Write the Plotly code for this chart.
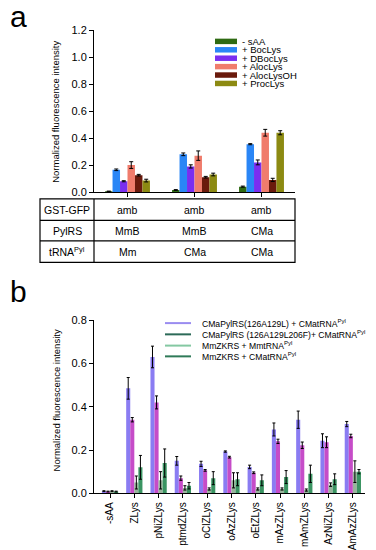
import plotly.graph_objects as go

W, H = 376, 550
def px(x): return x / W
def py(y): return 1 - y / H

FONT = "Liberation Sans, Arial, sans-serif"

# ---------------- Panel a data ----------------
a_groups = [0, 1, 2]
a_series = ["- sAA", "+ BocLys", "+ DBocLys", "+ AlocLys", "+ AlocLysOH", "+ ProcLys"]
a_colors = ["#2e6a12", "#2a86f6", "#7a2ef0", "#f07c6c", "#6a1a0c", "#8c8a12"]
a_sAA        = [0.005, 0.015, 0.040]
a_BocLys     = [0.165, 0.280, 0.355]
a_DBocLys    = [0.080, 0.190, 0.220]
a_AlocLys    = [0.200, 0.270, 0.440]
a_AlocLysOH  = [0.125, 0.110, 0.090]
a_ProcLys    = [0.085, 0.130, 0.440]
a_err_sAA       = [0.002, 0.003, 0.004]
a_err_BocLys    = [0.006, 0.010, 0.004]
a_err_DBocLys   = [0.004, 0.012, 0.018]
a_err_AlocLys   = [0.025, 0.035, 0.025]
a_err_AlocLysOH = [0.006, 0.006, 0.012]
a_err_ProcLys   = [0.010, 0.010, 0.015]
a_values = [a_sAA, a_BocLys, a_DBocLys, a_AlocLys, a_AlocLysOH, a_ProcLys]
a_errors = [a_err_sAA, a_err_BocLys, a_err_DBocLys, a_err_AlocLys, a_err_AlocLysOH, a_err_ProcLys]
a_yticks = [0.0, 0.2, 0.4, 0.6, 0.8, 1.0, 1.2]

table_rows = ["GST-GFP", "PylRS", "tRNA<sup>Pyl</sup>"]
table_gst = ["amb", "amb", "amb"]
table_pylrs = ["MmB", "MmB", "CMa"]
table_trna = ["Mm", "CMa", "CMa"]

# ---------------- Panel b data ----------------
b_categories = ["-sAA", "ZLys", "pNiZLys", "ptmdZLys", "oClZLys", "oAzZLys",
                "oEtZLys", "mAzZLys", "mAmZLys", "AzNiZLys", "AmAzZLys"]
b_series = ["CMaPylRS(126A129L) + CMatRNA<sup>Pyl</sup>",
            "CMaPylRS (126A129L206F)+ CMatRNA<sup>Pyl</sup>",
            "MmZKRS + MmtRNA<sup>Pyl</sup>",
            "MmZKRS + CMatRNA<sup>Pyl</sup>"]
b_bar_colors = ["#8a7cf2", "#c64cc8", "#98b49c", "#3a9462"]
b_legend_colors = ["#9a8cf0", "#2c6a58", "#84c8a2", "#2f7a58"]
b_s1 = [0.010, 0.485, 0.630, 0.150, 0.136, 0.193, 0.122, 0.295, 0.340, 0.243, 0.320]
b_s2 = [0.008, 0.340, 0.420, 0.070, 0.106, 0.167, 0.095, 0.240, 0.222, 0.236, 0.265]
b_s3 = [0.010, 0.050, 0.060, 0.025, 0.020, 0.060, 0.020, 0.020, 0.015, 0.040, 0.100]
b_s4 = [0.008, 0.120, 0.140, 0.035, 0.070, 0.065, 0.060, 0.075, 0.090, 0.065, 0.100]
b_e1 = [0.002, 0.050, 0.050, 0.020, 0.012, 0.003, 0.008, 0.030, 0.040, 0.032, 0.012]
b_e2 = [0.002, 0.010, 0.030, 0.010, 0.004, 0.004, 0.004, 0.010, 0.015, 0.025, 0.008]
b_e3 = [0.002, 0.030, 0.040, 0.010, 0.005, 0.035, 0.005, 0.005, 0.005, 0.008, 0.050]
b_e4 = [0.002, 0.055, 0.065, 0.015, 0.030, 0.030, 0.025, 0.030, 0.040, 0.025, 0.010]
b_values = [b_s1, b_s2, b_s3, b_s4]
b_errors = [b_e1, b_e2, b_e3, b_e4]
b_yticks = [0.0, 0.2, 0.4, 0.6, 0.8]

fig = go.Figure()

for name, vals, errs, col in zip(a_series, a_values, a_errors, a_colors):
    fig.add_trace(go.Bar(
        x=a_groups, y=vals, name=name, marker=dict(color=col, line=dict(width=0)),
        error_y=dict(type="data", array=errs, color="black", thickness=1, width=2),
        xaxis="x", yaxis="y", offsetgroup=name, showlegend=False))

for name, vals, errs, col in zip(b_series, b_values, b_errors, b_bar_colors):
    fig.add_trace(go.Bar(
        x=b_categories, y=vals, name=name, marker=dict(color=col, line=dict(width=0)),
        error_y=dict(type="data", array=errs, color="black", thickness=1, width=1.5),
        xaxis="x2", yaxis="y2", offsetgroup=name, showlegend=False))

shapes = []
annotations = []

# Panel labels
annotations.append(dict(text="a", x=px(0), y=py(-16), xref="paper", yref="paper",
                        xanchor="left", yanchor="top", showarrow=False,
                        font=dict(family=FONT, size=30, color="black")))
annotations.append(dict(text="b", x=px(0), y=py(265), xref="paper", yref="paper",
                        xanchor="left", yanchor="top", showarrow=False,
                        font=dict(family=FONT, size=30, color="black")))

# Y titles
for yc in [100, 395]:
    annotations.append(dict(text="Normalized fluorescence intensity", x=px(48), y=py(yc),
                            xref="paper", yref="paper", textangle=-90, showarrow=False,
                            xanchor="center", yanchor="middle",
                            font=dict(family=FONT, size=9.5, color="black")))

# Panel a legend (manual, compact)
row0, step = 28, 8.6
for i, (name, col) in enumerate(zip(a_series, a_colors)):
    yc = row0 + i * step
    shapes.append(dict(type="rect", xref="paper", yref="paper",
                       x0=px(207), x1=px(229), y0=py(yc - 2.8), y1=py(yc + 2.8),
                       fillcolor=col, line=dict(width=0)))
    annotations.append(dict(text=name, x=px(232), y=py(yc), xref="paper", yref="paper",
                            xanchor="left", yanchor="middle", showarrow=False,
                            font=dict(family=FONT, size=9.5, color="black")))

# Panel b legend (lines)
b_rows = [316, 327.5, 339, 350]
for name, col, yc in zip(b_series, b_legend_colors, b_rows):
    shapes.append(dict(type="line", xref="paper", yref="paper",
                       x0=px(157), x1=px(183), y0=py(yc), y1=py(yc),
                       line=dict(color=col, width=2)))
    annotations.append(dict(text=name, x=px(192), y=py(yc), xref="paper", yref="paper",
                            xanchor="left", yanchor="middle", showarrow=False,
                            font=dict(family=FONT, size=8.6, color="black")))

# Table under panel a
tl, tr, tdiv = 32, 287, 86
t_rows_y = [189, 211, 232, 254]
lw = 1.2
shapes.append(dict(type="rect", xref="paper", yref="paper", x0=px(tl), x1=px(tr),
                   y0=py(t_rows_y[0]), y1=py(t_rows_y[-1]), line=dict(color="black", width=lw)))
shapes.append(dict(type="line", xref="paper", yref="paper", x0=px(tdiv), x1=px(tdiv),
                   y0=py(t_rows_y[0]), y1=py(t_rows_y[-1]), line=dict(color="black", width=lw)))
for yy in t_rows_y[1:-1]:
    shapes.append(dict(type="line", xref="paper", yref="paper", x0=px(tl), x1=px(tr),
                       y0=py(yy), y1=py(yy), line=dict(color="black", width=lw)))
row_centers = [(t_rows_y[i] + t_rows_y[i + 1]) / 2 for i in range(3)]
for lab, yc in zip(table_rows, row_centers):
    annotations.append(dict(text=lab, x=px((tl + tdiv) / 2), y=py(yc), xref="paper", yref="paper",
                            xanchor="center", yanchor="middle", showarrow=False,
                            font=dict(family=FONT, size=10.5, color="black")))
for row_vals, yc in zip([table_gst, table_pylrs, table_trna], row_centers):
    for g, v in zip(a_groups, row_vals):
        annotations.append(dict(text=v, x=g, y=py(yc), xref="x", yref="paper",
                                xanchor="center", yanchor="middle", showarrow=False,
                                font=dict(family=FONT, size=10.5, color="black")))

axis_common = dict(showline=True, linecolor="black", linewidth=1, ticks="outside",
                   ticklen=4, tickwidth=1, tickcolor="black", showgrid=False, zeroline=False)
tick11 = dict(family=FONT, size=11, color="black")

fig.update_layout(
    width=W, height=H, margin=dict(l=0, r=0, t=0, b=0),
    paper_bgcolor="white", plot_bgcolor="white",
    barmode="group", bargap=0.33, bargroupgap=0.0,
    showlegend=False,
    xaxis=dict(domain=[px(86), px(287)], range=[-0.5, 2.5], tickvals=a_groups,
               showticklabels=False, anchor="y", tickfont=tick11, **axis_common),
    yaxis=dict(domain=[py(182), py(16.7)], range=[0, 1.2], tickvals=a_yticks,
               tickformat=".1f", anchor="x", tickfont=tick11, **axis_common),
    xaxis2=dict(domain=[px(86), px(357)], range=[-0.66, 10.5], type="category",
                tickangle=-90, anchor="y2", tickfont=dict(family=FONT, size=10, color="black"),
                **axis_common),
    yaxis2=dict(domain=[py(490), py(313)], range=[0, 0.8], tickvals=b_yticks,
                tickformat=".1f", anchor="x2", tickfont=tick11, **axis_common),
    shapes=shapes, annotations=annotations,
)

fig.write_html("out.html")
